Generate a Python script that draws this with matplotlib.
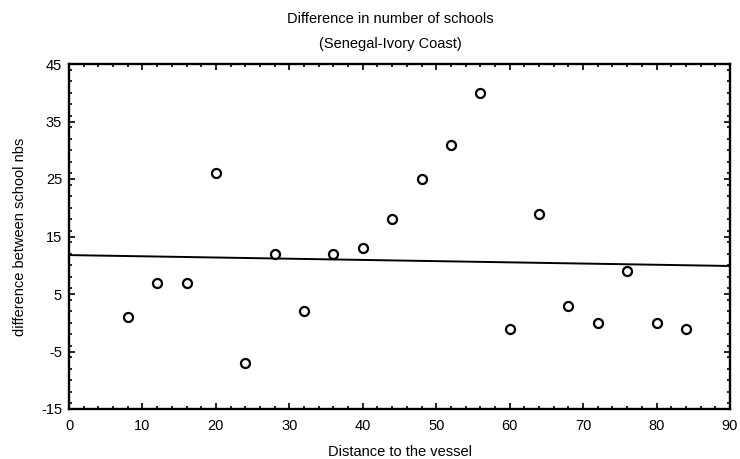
import numpy as np
import matplotlib
matplotlib.use("Agg")
import matplotlib.pyplot as plt
from matplotlib.ticker import MultipleLocator

distance = [8, 12, 16, 20, 24, 28, 32, 36, 40, 44, 48, 52, 56, 60, 64, 68, 72, 76, 80, 84]
difference = [1, 7, 7, 26, -7, 12, 2, 12, 13, 18, 25, 31, 40, -1, 19, 3, 0, 9, 0, -1]

plt.rcParams['font.family'] = ['Liberation Sans', 'DejaVu Sans']
plt.rcParams['axes.unicode_minus'] = False

fig = plt.figure(figsize=(7.4, 4.59), dpi=100)
ax = fig.add_axes([69/740, 1 - 409/459, 661/740, 345/459])

x = np.array(distance, dtype=float)
y = np.array(difference, dtype=float)
slope, intercept = np.polyfit(x, y, 1)
xl = np.array([0.0, 90.0])
ax.plot(xl, intercept + slope * xl, color='black', lw=1.4)

ax.plot(x, y, linestyle='none', marker='o', markersize=6.5,
        markerfacecolor='white', markeredgecolor='black', markeredgewidth=1.6)

ax.set_xlim(0, 90)
ax.set_ylim(-15, 45)
ax.xaxis.set_major_locator(MultipleLocator(10))
ax.xaxis.set_minor_locator(MultipleLocator(2))
ax.set_yticks(np.arange(-15, 46, 10))
ax.yaxis.set_minor_locator(MultipleLocator(2))
ax.tick_params(which='both', direction='in', top=True, right=True, width=1.2,
               labelsize=10.5)
ax.tick_params(axis='x', pad=7)
ax.tick_params(axis='y', pad=5)
ax.tick_params(which='major', length=4)
ax.tick_params(which='minor', length=2.5)
for s in ax.spines.values():
    s.set_linewidth(1.7)

ax.set_xlabel('Distance to the vessel', fontsize=10.5, labelpad=9)
ax.set_ylabel('difference between school nbs', fontsize=10.5, labelpad=10)
fig.text(390/740, 1 - 19/459, 'Difference in number of schools', ha='center', va='center', fontsize=10.5)
fig.text(390/740, 1 - 44/459, '(Senegal-Ivory Coast)', ha='center', va='center', fontsize=10.5)

fig.savefig('out.png', dpi=100)
